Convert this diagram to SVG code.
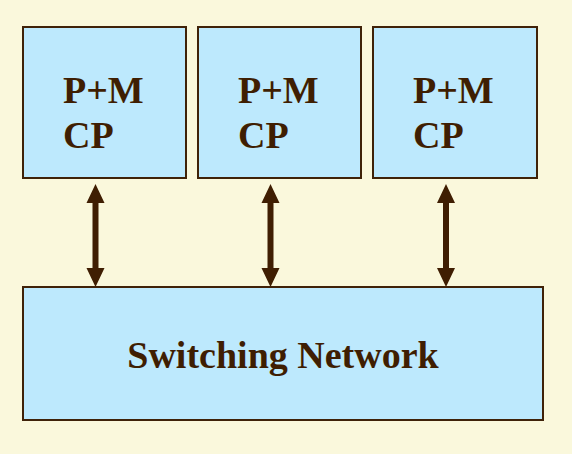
<svg xmlns="http://www.w3.org/2000/svg" width="572" height="454" viewBox="0 0 572 454">
<defs>
<style>
.box{fill:#bde9fd;stroke:#3f2208;stroke-width:2}
.t{font-family:"Liberation Serif","Times New Roman",serif;font-weight:bold;font-size:38px;fill:#3f1e02}
.ar{fill:#3f1e02}
</style>
</defs>
<rect x="0" y="0" width="572" height="454" fill="#faf8dc"/>
<g id="cp1">
<rect class="box" x="23" y="27" width="163" height="151"/>
<text class="t" x="63" y="103">P+M</text>
<text class="t" x="63" y="148">CP</text>
</g>
<g id="cp2">
<rect class="box" x="198" y="27" width="163" height="151"/>
<text class="t" x="238" y="103">P+M</text>
<text class="t" x="238" y="148">CP</text>
</g>
<g id="cp3">
<rect class="box" x="373" y="27" width="164" height="151"/>
<text class="t" x="413" y="103">P+M</text>
<text class="t" x="413" y="148">CP</text>
</g>
<g id="switch">
<rect class="box" x="23" y="287" width="520" height="133"/>
<text class="t" x="283" y="368" text-anchor="middle">Switching Network</text>
</g>
<g id="connectors">
<path class="ar" d="M95.5 184 L104.5 203 L98.5 203 L98.5 268 L104.5 268 L95.5 287 L86.5 268 L92.5 268 L92.5 203 L86.5 203 Z"/>
<path class="ar" d="M270.5 184 L279.5 203 L273.5 203 L273.5 268 L279.5 268 L270.5 287 L261.5 268 L267.5 268 L267.5 203 L261.5 203 Z"/>
<path class="ar" d="M446 184 L455 203 L449 203 L449 268 L455 268 L446 287 L437 268 L443 268 L443 203 L437 203 Z"/>
</g>
</svg>
